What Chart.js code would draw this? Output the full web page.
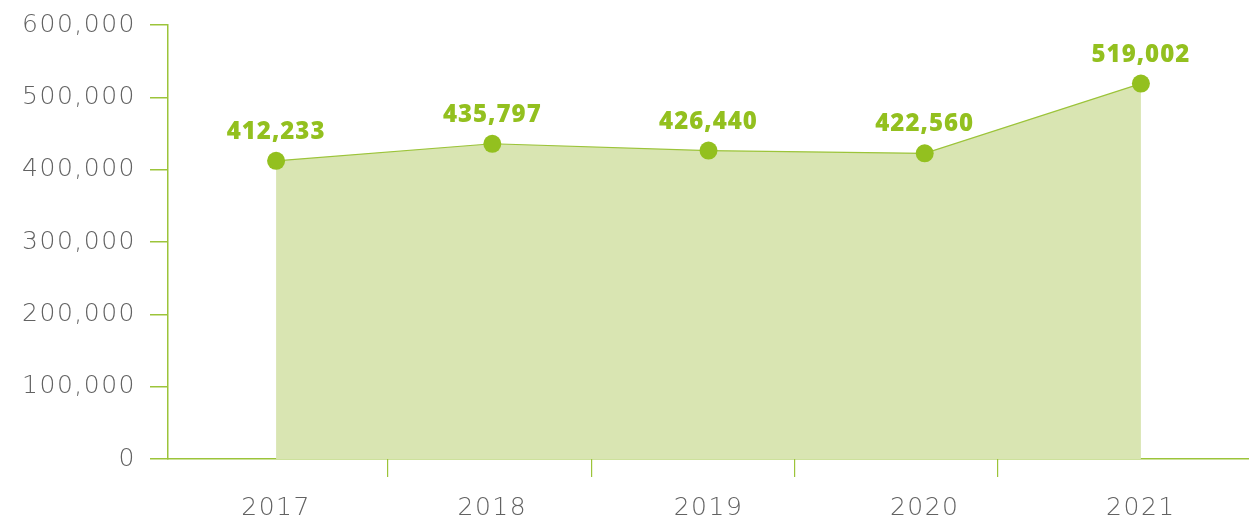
<!DOCTYPE html>
<html>
<head>
<meta charset="utf-8">
<script src="https://cdn.jsdelivr.net/npm/chart.js@4"></script>
<style>
  html, body { margin: 0; padding: 0; background: #fff; }
  #wrap { width: 1249px; height: 521px; }
</style>
</head>
<body>
<div id="wrap"><canvas id="c" width="1249" height="521"></canvas></div>
<script>
const categories = ['2017', '2018', '2019', '2020', '2021'];
const values = [412233, 435797, 426440, 422560, 519002];
const yTicks = [0, 100000, 200000, 300000, 400000, 500000, 600000];
// decorative tick-mark axis (separators below the x axis)
const separatorTicks = [1, 2, 3, 4];
const separatorRange = [-0.082, 5.235];

const GREEN = '#93c01f';
const LINE = '#9cc43a';
const FILL = '#d9e5b2';
const GREY = '#626262';
const TICK_FONT = { family: '"DejaVu Sans", sans-serif', size: 25, weight: '200' };
const fmt = v => v.toLocaleString('en-US');

const spacing = {
  id: 'spacing',
  beforeLayout(chart) { chart.ctx.letterSpacing = '1.5px'; },
  beforeDraw(chart) { chart.ctx.letterSpacing = '1.5px'; }
};

const valueLabels = {
  id: 'valueLabels',
  afterDatasetsDraw(chart) {
    const ctx = chart.ctx;
    const meta = chart.getDatasetMeta(0);
    ctx.save();
    ctx.letterSpacing = '1px';
    ctx.font = '800 24px "Open Sans", sans-serif';
    ctx.fillStyle = GREEN;
    ctx.textAlign = 'center';
    ctx.textBaseline = 'alphabetic';
    meta.data.forEach((pt, i) => {
      ctx.fillText(fmt(values[i]), pt.x, pt.y - 22);
    });
    ctx.restore();
  }
};

new Chart(document.getElementById('c'), {
  type: 'line',
  data: {
    labels: categories,
    datasets: [{
      data: values,
      borderColor: LINE,
      borderWidth: 1.2,
      backgroundColor: FILL,
      fill: 'origin',
      tension: 0,
      pointRadius: 9,
      pointHoverRadius: 9,
      pointBackgroundColor: GREEN,
      pointBorderWidth: 0
    }]
  },
  options: {
    responsive: false,
    animation: false,
    events: [],
    layout: { autoPadding: false, padding: { top: 25, right: 0, bottom: 0, left: 0 } },
    plugins: { legend: { display: false }, tooltip: { enabled: false } },
    scales: {
      x: {
        type: 'category',
        offset: true,
        afterFit: axis => { axis.height = 62; axis.paddingLeft = 0; axis.paddingRight = 0; },
        grid: {
          display: false
        },
        border: { display: true, color: LINE, width: 1.5 },
        ticks: {
          color: GREY,
          padding: 26,
          font: TICK_FONT,
          maxRotation: 0
        }
      },
      sep: {
        type: 'linear',
        axis: 'x',
        position: { y: 0 },
        min: separatorRange[0],
        max: separatorRange[1],
        afterBuildTicks: axis => { axis.ticks = separatorTicks.map(v => ({ value: v })); },
        grid: {
          drawOnChartArea: false,
          drawTicks: true,
          tickLength: 18,
          lineWidth: 1.2,
          tickColor: LINE
        },
        border: { display: false },
        ticks: { display: false }
      },
      y: {
        min: 0,
        max: 600000,
        afterBuildTicks: axis => { axis.ticks = yTicks.map(v => ({ value: v })); },
        afterFit: axis => { axis.width = 168; axis.paddingTop = 0; axis.paddingBottom = 0; },
        grid: {
          drawOnChartArea: false,
          tickLength: 18,
          lineWidth: 1.5,
          color: LINE
        },
        border: { color: LINE, width: 1.5 },
        ticks: {
          color: GREY,
          padding: 14,
          font: TICK_FONT,
          callback: v => fmt(v)
        }
      }
    }
  },
  plugins: [spacing, valueLabels]
});
</script>
</body>
</html>
